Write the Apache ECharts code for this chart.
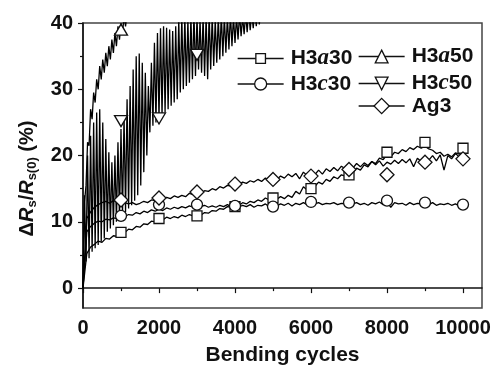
<!DOCTYPE html>
<html><head><meta charset="utf-8">
<script src="https://cdn.jsdelivr.net/npm/echarts@6/dist/echarts.min.js"></script>
<style>html,body{margin:0;padding:0;background:#fff}#c{width:491px;height:366px}</style>
</head><body><div id="c"></div>
<script>
// ---- data ----
const xTickLabels = [0, 2000, 4000, 6000, 8000, 10000];
const xMinorTicks = [1000, 3000, 5000, 7000, 9000];
const yTickLabels = [0, 10, 20, 30, 40];
const yMinorTicks = [5, 15, 25, 35];

const seriesNames = ['H3a30', 'H3c30', 'H3a50', 'H3c50', 'Ag3'];

const markerCycles = [1000, 2000, 3000, 4000, 5000, 6000, 7000, 8000, 9000, 10000];
const h3a30Markers = [8.4, 10.5, 10.9, 12.3, 13.6, 15.0, 17.1, 20.5, 22.0, 21.1];
const h3c30Markers = [10.9, 12.6, 12.6, 12.4, 12.3, 13.0, 12.9, 13.2, 12.9, 12.6];
const h3a50Markers = [39.0];
const h3c50Markers = [25.2, 25.6, 35.2];
const ag3Markers = [13.3, 13.6, 14.5, 15.7, 16.4, 16.9, 17.9, 17.1, 19.0, 19.5];

// noisy traces sampled every 100 cycles (0 ... 10000)
const lowStep = 100;
const h3a30Trace = [0,5.2,6.2,6.6,7.1,6.9,7.5,7.4,7.9,7.8,8.3,8.4,8.9,8.8,9.3,9.2,9.7,9.6,10.1,10.0,
  10.5,10.3,10.7,10.5,10.8,10.6,11.0,10.8,11.1,10.9,11.1,11.0,11.4,11.3,11.7,11.6,12.0,11.9,12.3,12.2,
  12.6,12.4,12.9,12.7,13.1,12.9,13.3,13.1,13.6,13.3,13.7,13.4,13.8,13.5,14.0,13.7,14.6,14.2,15.3,14.8,
  15.6,15.3,16.0,15.7,16.4,16.1,16.8,16.5,17.1,16.9,17.5,17.4,18.1,17.8,18.6,18.3,19.1,18.8,19.6,19.4,
  20.1,19.8,20.5,20.3,20.9,20.6,21.2,20.9,21.4,21.1,21.4,21.0,20.8,20.3,20.5,19.9,20.2,19.8,20.4,20.2,20.8];
const h3c30Trace = [0,8.5,9.3,9.8,10.1,10.0,10.4,10.3,10.6,10.5,10.9,10.8,11.1,11.0,11.4,11.2,11.6,11.4,11.8,11.6,
  11.9,11.7,12.1,11.9,12.2,12.0,12.3,12.1,12.4,12.2,12.5,12.3,12.5,12.2,12.4,12.2,12.5,12.3,12.6,12.3,
  12.5,12.2,12.5,12.3,12.6,12.2,12.5,12.4,12.7,12.3,12.6,12.4,12.7,12.5,12.8,12.4,12.8,12.6,12.9,12.6,
  12.9,12.7,12.9,12.6,12.8,12.7,12.9,12.6,12.8,12.7,12.9,12.7,12.9,12.6,12.8,12.5,12.9,12.7,13.0,12.6,
  13.0,12.2,12.9,12.7,12.8,12.5,12.9,12.6,12.8,12.7,12.8,12.6,12.9,12.5,12.7,12.6,12.8,12.5,12.7,12.4,12.6];
const ag3Trace = [0,10.5,11.5,12.2,12.6,12.9,13.1,12.8,13.2,13.0,13.3,12.9,12.7,12.9,12.6,12.8,13.1,12.9,13.3,13.2,
  13.5,13.4,13.7,13.5,13.9,13.7,14.0,13.8,14.3,14.1,14.5,14.3,14.7,14.6,15.0,14.8,15.3,15.1,15.5,15.4,
  15.8,15.6,16.0,15.8,16.2,16.0,16.4,16.1,16.6,16.3,16.6,16.4,16.9,16.6,17.2,16.8,17.3,16.5,17.5,17.0,
  17.4,17.1,17.8,17.2,18.0,17.6,18.2,17.7,18.4,18.0,18.5,18.1,18.8,18.3,18.9,18.5,19.1,18.6,19.2,18.4,
  19.0,18.7,19.3,18.8,19.4,18.9,19.5,18.3,19.6,19.1,19.8,19.3,20.0,19.2,20.1,17.8,20.0,19.5,20.3,19.8,20.3];

// H3a50: strongly oscillating trace, sampled every 40 cycles (0 ... 1280)
const h3a50Step = 40;
const h3a50Trace = [0,13,15.5,22,21.5,27,25.5,29.5,28,31.5,30,33.5,31.5,34.5,32.5,35.5,33.5,36.5,34.5,37.5,
  35.5,38.5,36.5,39.5,37.5,40,38.5,41,39.5,41.5,40.5,42,42];

// H3c50: troughs (at 0, 80, 160 ... 4800) and peaks (at 40, 120 ... 4840) of the oscillation
const h3c50Period = 80;
const h3c50Troughs = [0,4,4.5,5.5,6,6.5,7,7.5,8.5,9,
  9.5,10,10.5,11,11.5,12,12.5,13.2,14,15.5,
  17.5,20,23.5,24.5,25,25.5,26,26.5,27,27.5,
  28,28.5,29.5,30,30.5,31,31.5,32,33,32.5,
  32,31.5,33,33.5,34,34.5,35,35.5,36,36.5,
  37,37.5,38,38.3,38.6,38.9,39.2,39.5,39.8,40.2,40.6];
const h3c50Peaks = [14,20,23,25,26.5,27,25,22.5,20.5,19,
  20,22,24,26,28.5,30.5,33,35,35.4,34,
  32.5,30.5,34,37,38.5,39.2,39.5,39.3,39,38.8,
  39.5,40.5,41,41,40.5,41,41.5,41,40.5,41,
  41,41.5,41,40.5,41,41.5,41,41,41.5,41,
  41,41.5,41,41.5,42,41.5,42,42,42.5,42,43];

// ---- build series data ----
const stepData = (arr, step) => arr.map((v, i) => [i * step, v]);
const h3c50Data = [];
h3c50Troughs.forEach((v, k) => {
  h3c50Data.push([k * h3c50Period, v]);
  h3c50Data.push([k * h3c50Period + h3c50Period / 2, h3c50Peaks[k]]);
});
const markerData = (vals) => vals.map((v, i) => [markerCycles[i], v]);

const FONT = '"Liberation Sans", Arial, sans-serif';
const SERIF = '"Liberation Serif", "Times New Roman", serif';
const INK = '#000';

function traceSeries(name, data) {
  return {
    name: name, type: 'line', data: data, showSymbol: false, symbol: 'none',
    lineStyle: { color: INK, width: 1.3 }, clip: true, z: 2, silent: true,
    emphasis: { disabled: true }
  };
}
function markerSeries(name, data, symbol, size) {
  return {
    name: name, type: 'line', data: data, symbol: symbol, symbolSize: size,
    showAllSymbol: true, lineStyle: { opacity: 0, width: 0 },
    itemStyle: { color: '#fff', borderColor: '#111', borderWidth: 1.3, opacity: 1 },
    clip: true, z: 5, silent: true, emphasis: { disabled: true }
  };
}
const downTri = 'path://M0,0L10,0L5,8.5Z';
const upTri = 'path://M5,0L10,8.5L0,8.5Z';

const legendRich = {
  b: { fontFamily: FONT, fontWeight: 'bold', fontSize: 21, color: '#111' },
  i: { fontFamily: SERIF, fontWeight: 'bold', fontStyle: 'italic', fontSize: 23, color: '#111' }
};
function legendFmt(name) {
  if (name.length === 5) return '{b|H3}{i|' + name[2] + '}{b|' + name.slice(3) + '}';
  return '{b|' + name + '}';
}
function legendBox(name, left, rowCenter, itemH, itemW) {
  return {
    data: [name], left: left, top: rowCenter - itemH / 2, orient: 'vertical',
    itemWidth: itemW, itemHeight: itemH, itemGap: 0, padding: 0, selectedMode: false,
    formatter: legendFmt, textStyle: { rich: legendRich, padding: [0, 0, 0, 2] },
    lineStyle: { color: '#111', width: 1.3, opacity: 1, type: 'solid' },
    itemStyle: { color: '#fff', borderColor: '#111', borderWidth: 1.3 }
  };
}
const plainNum = (v) => String(v);

const option = {
  animation: false,
  backgroundColor: '#fff',
  grid: { left: 83, right: 9, top: 23, bottom: 58, show: true, borderColor: '#444', borderWidth: 1.5,
          containLabel: false, outerBoundsMode: 'none' },
  xAxis: [{
    type: 'value', min: 0, max: 10500,
    name: 'Bending cycles', nameLocation: 'middle', nameGap: 37,
    nameTextStyle: { fontFamily: FONT, fontWeight: 'bold', fontSize: 21, color: '#111' },
    axisLine: { show: true, lineStyle: { color: '#111', width: 1.5 } },
    axisTick: { show: true, inside: false, length: 5, customValues: xTickLabels, lineStyle: { color: '#111', width: 1.2 } },
    axisLabel: { customValues: xTickLabels, formatter: plainNum, margin: 10, fontFamily: FONT, fontWeight: 'bold', fontSize: 20, color: '#111' },
    splitLine: { show: false }
  }, {
    type: 'value', min: 0, max: 10500, position: 'bottom',
    axisLine: { show: false },
    axisTick: { show: true, inside: false, length: 3, customValues: xMinorTicks, lineStyle: { color: '#111', width: 1.2 } },
    axisLabel: { show: false }, splitLine: { show: false }
  }],
  yAxis: [{
    type: 'value', min: -3, max: 40,
    name: '{n|Δ}{it|R}{sub|s}{n|/}{it|R}{sub|s(0)}{n| (%)}',
    nameLocation: 'middle', nameGap: 44,
    nameTextStyle: {
      padding: [0, 26, 0, 0],
      rich: {
        n: { fontFamily: FONT, fontWeight: 'bold', fontSize: 20, color: '#111', lineHeight: 24 },
        it: { fontFamily: FONT, fontWeight: 'bold', fontStyle: 'italic', fontSize: 20, color: '#111', lineHeight: 24 },
        sub: { fontFamily: FONT, fontWeight: 'bold', fontSize: 13, color: '#111', verticalAlign: 'bottom', lineHeight: 14, padding: [8, 0, 0, 0] }
      }
    },
    axisLine: { show: true, lineStyle: { color: '#111', width: 1.5 } },
    axisTick: { show: true, inside: false, length: 5, customValues: yTickLabels, lineStyle: { color: '#111', width: 1.2 } },
    axisLabel: { customValues: yTickLabels, formatter: plainNum, margin: 10, fontFamily: FONT, fontWeight: 'bold', fontSize: 20, color: '#111' },
    splitLine: { show: false }
  }, {
    type: 'value', min: -3, max: 40, position: 'left',
    axisLine: { show: false },
    axisTick: { show: true, inside: false, length: 3, customValues: yMinorTicks, lineStyle: { color: '#111', width: 1.2 } },
    axisLabel: { show: false }, splitLine: { show: false }
  }],
  legend: [
    legendBox('H3a30', 237, 53, 12, 46),
    legendBox('H3c30', 237, 80, 15, 46),
    legendBox('H3a50', 358, 53, 16, 46),
    legendBox('H3c50', 358, 80, 16, 46),
    legendBox('Ag3', 358, 105, 19, 46)
  ],
  series: [
    traceSeries('t-H3a30', stepData(h3a30Trace, lowStep)),
    traceSeries('t-H3c30', stepData(h3c30Trace, lowStep)),
    traceSeries('t-H3a50', stepData(h3a50Trace, h3a50Step)),
    traceSeries('t-H3c50', h3c50Data),
    traceSeries('t-Ag3', stepData(ag3Trace, lowStep)),
    markerSeries('H3a30', markerData(h3a30Markers), 'rect', 10),
    markerSeries('H3c30', markerData(h3c30Markers), 'circle', 11),
    markerSeries('H3a50', markerData(h3a50Markers), upTri, [13, 11]),
    markerSeries('H3c50', markerData(h3c50Markers), downTri, [13, 11]),
    markerSeries('Ag3', markerData(ag3Markers), 'diamond', 14)
  ]
};
const chart = echarts.init(document.getElementById('c'), null, { renderer: 'canvas' });
chart.setOption(option);
</script>
</body></html>
